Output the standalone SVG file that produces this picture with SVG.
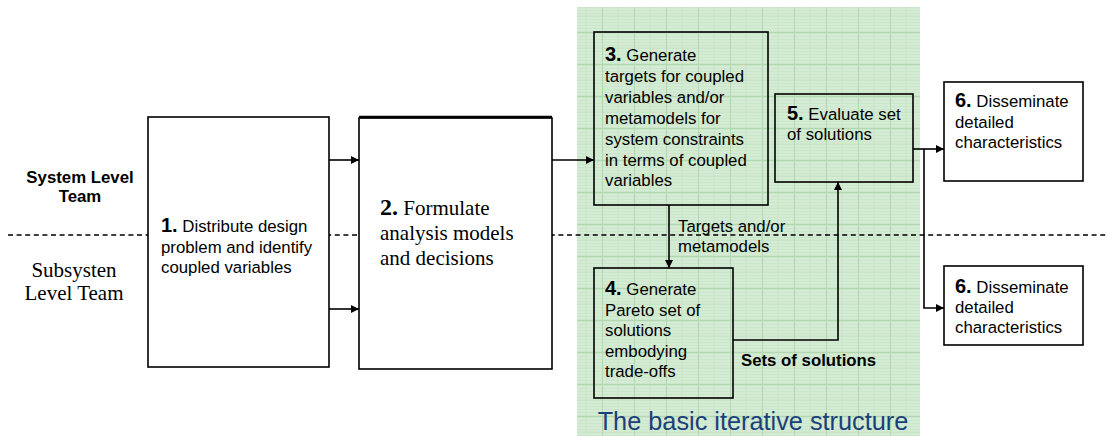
<svg xmlns="http://www.w3.org/2000/svg" width="1107" height="436" viewBox="0 0 1107 436">
<defs>
  <pattern id="grid" x="-6" y="0" width="32" height="32" patternUnits="userSpaceOnUse">
    <rect width="32" height="32" fill="#d4ecd3"/>
    <path d="M0 1.5H32M0 4.5H32M0 7.5H32M0 10.5H32M0 13.5H32M0 16.5H32M0 19.5H32M0 22.5H32M0 25.5H32M0 28.5H32M0 31.5H32" stroke="#cbe6ca" stroke-width="1"/>
    <path d="M16 0V32M0 16H32" stroke="#c8e3c7" stroke-width="1"/>
    <path d="M0.5 0V32M0 0.5H32" stroke="#b2d8b2" stroke-width="1"/>
  </pattern>
  <marker id="arr" viewBox="0 0 10 10" refX="10" refY="5" markerWidth="10" markerHeight="8" markerUnits="userSpaceOnUse" orient="auto">
    <path d="M0,0 L10,5 L0,10 z" fill="#000"/>
  </marker>
</defs>
<style>
  .box { fill: #fff; stroke: #000; stroke-width: 1.6; }
  .tbox { fill: none; stroke: #000; stroke-width: 1.6; }
  .t { font-family: "Liberation Sans", Arial, sans-serif; font-size: 16.8px; fill: #000; }
  .num { font-weight: bold; font-size: 20px; }
  .serif { font-family: "Liberation Serif", "Times New Roman", serif; font-size: 21px; fill: #000; }
  .conn { fill: none; stroke: #000; stroke-width: 1.6; }
</style>

<rect id="iterative-area" x="577" y="7" width="343" height="429" fill="url(#grid)"/>

<line x1="8" y1="235" x2="1107" y2="235" stroke="#000" stroke-width="1.5" stroke-dasharray="5,3.6"/>

<g id="lane-labels">
  <text class="t" x="80" y="183" text-anchor="middle" font-weight="bold" font-size="16px">System Level</text>
  <text class="t" x="80" y="202" text-anchor="middle" font-weight="bold" font-size="16px">Team</text>
  <text class="serif" x="74" y="277" text-anchor="middle" font-size="20px">Subsysten</text>
  <text class="serif" x="74" y="300" text-anchor="middle" font-size="20px">Level Team</text>
</g>

<g id="node1">
  <rect class="box" x="148" y="117" width="181" height="250"/>
  <text class="t" x="161" y="232"><tspan class="num">1.</tspan> Distribute design</text>
  <text class="t" x="161" y="253">problem and identify</text>
  <text class="t" x="161" y="273">coupled variables</text>
</g>

<g id="node2">
  <rect class="box" x="359" y="118" width="193" height="251" stroke-width="2"/>
  <line x1="359" y1="117" x2="552" y2="117" stroke="#000" stroke-width="2.5"/>
  <text class="serif" x="380" y="215"><tspan font-weight="bold" font-size="24px">2.</tspan> Formulate</text>
  <text class="serif" x="380" y="240">analysis models</text>
  <text class="serif" x="380" y="265">and decisions</text>
</g>

<g id="node3">
  <rect class="tbox" x="594" y="32" width="174" height="173"/>
  <text class="t" x="605" y="61"><tspan class="num">3.</tspan> Generate</text>
  <text class="t" x="605" y="82">targets for coupled</text>
  <text class="t" x="605" y="103">variables and/or</text>
  <text class="t" x="605" y="124">metamodels for</text>
  <text class="t" x="605" y="145">system constraints</text>
  <text class="t" x="605" y="166">in terms of coupled</text>
  <text class="t" x="605" y="186">variables</text>
</g>

<g id="node4">
  <rect class="tbox" x="594" y="268" width="139" height="130"/>
  <text class="t" x="605" y="295"><tspan class="num">4.</tspan> Generate</text>
  <text class="t" x="605" y="316">Pareto set of</text>
  <text class="t" x="605" y="336">solutions</text>
  <text class="t" x="605" y="357">embodying</text>
  <text class="t" x="605" y="377">trade-offs</text>
</g>

<g id="node5">
  <rect class="tbox" x="775" y="94" width="138" height="88"/>
  <text class="t" x="787" y="120"><tspan class="num">5.</tspan> Evaluate set</text>
  <text class="t" x="787" y="140">of solutions</text>
</g>

<g id="node6a">
  <rect class="box" x="944" y="82" width="139" height="99"/>
  <text class="t" x="955" y="107"><tspan class="num">6.</tspan> Disseminate</text>
  <text class="t" x="955" y="128">detailed</text>
  <text class="t" x="955" y="148">characteristics</text>
</g>

<g id="node6b">
  <rect class="box" x="944" y="266" width="139" height="79"/>
  <text class="t" x="955" y="293"><tspan class="num">6.</tspan> Disseminate</text>
  <text class="t" x="955" y="313">detailed</text>
  <text class="t" x="955" y="333">characteristics</text>
</g>

<g id="connectors">
  <line class="conn" x1="329" y1="160" x2="359" y2="160" marker-end="url(#arr)"/>
  <line class="conn" x1="329" y1="309" x2="359" y2="309" marker-end="url(#arr)"/>
  <line class="conn" x1="552" y1="160" x2="594" y2="160" marker-end="url(#arr)"/>
  <line class="conn" x1="669" y1="205" x2="669" y2="268" marker-end="url(#arr)"/>
  <polyline class="conn" points="733,340 838,340 838,182" marker-end="url(#arr)"/>
  <line class="conn" x1="913" y1="149" x2="944" y2="149" marker-end="url(#arr)"/>
  <polyline class="conn" points="924,149 924,308 944,308" marker-end="url(#arr)"/>
  <text class="t" x="678" y="232" font-size="13.8px">Targets and/or</text>
  <text class="t" x="678" y="252" font-size="13.8px">metamodels</text>
  <text class="t" x="741" y="366" font-weight="bold" font-size="17.3px">Sets of solutions</text>
</g>

<text x="753" y="430" text-anchor="middle" font-family="Liberation Sans, Arial, sans-serif" font-size="25.3px" fill="#1b3f7a">The basic iterative structure</text>
</svg>
